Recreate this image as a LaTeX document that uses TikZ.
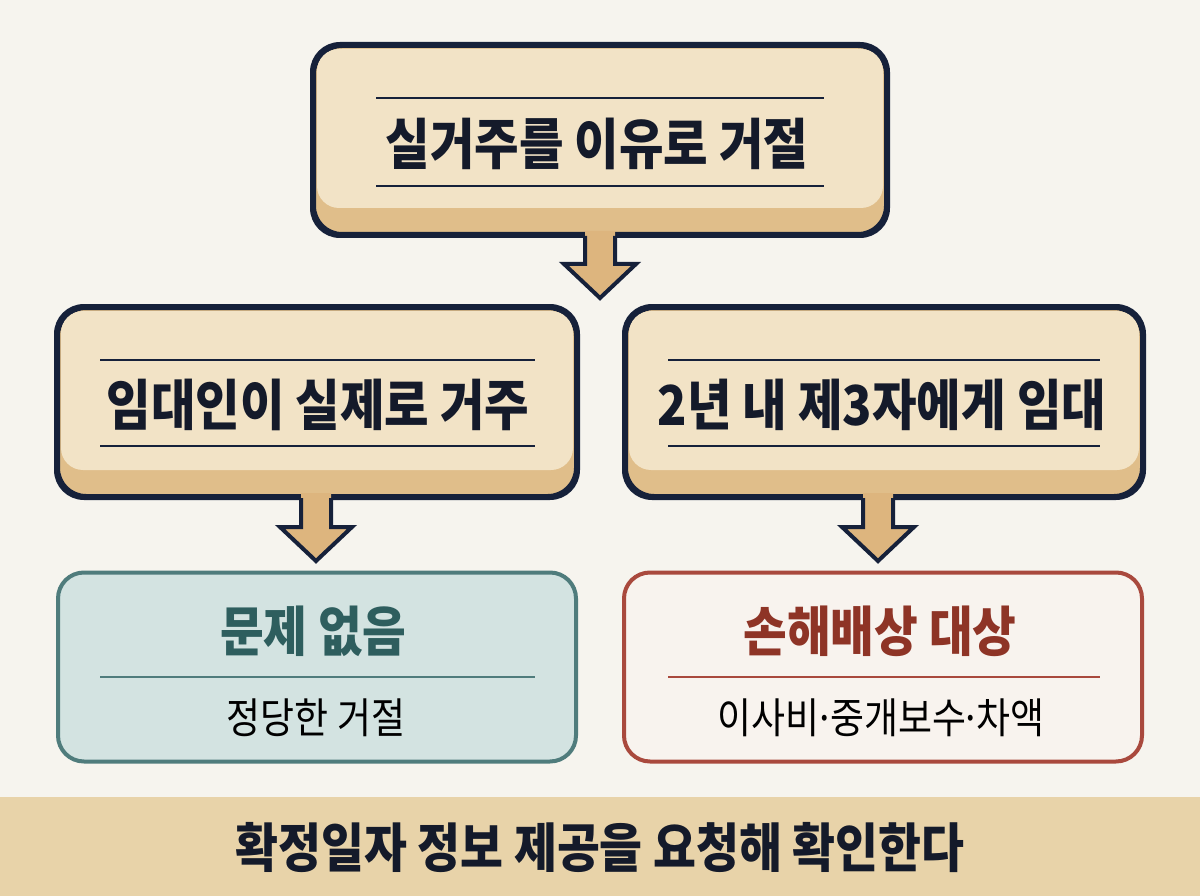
\documentclass[tikz,border=0pt]{standalone}
\usepackage{fontspec}
\usetikzlibrary{calc}
\newfontfamily\kr[FakeStretch=0.88]{Noto Sans CJK KR}
\definecolor{bg}{HTML}{F6F4EE}
\definecolor{navy}{HTML}{16213A}
\definecolor{tanlight}{HTML}{F2E3C6}
\definecolor{tandark}{HTML}{E0BE8A}
\definecolor{arrowfill}{HTML}{DDB57E}
\definecolor{tealline}{HTML}{4F7C7C}
\definecolor{tealfill}{HTML}{D3E3E1}
\definecolor{tealtext}{HTML}{2E5E5E}
\definecolor{redline}{HTML}{A9493D}
\definecolor{redfill}{HTML}{F8F3EE}
\definecolor{redtext}{HTML}{8E3426}
\definecolor{footer}{HTML}{E8D3A9}
\definecolor{ink}{HTML}{141A2A}
\tikzset{
  tanbox/.style={draw=navy, line width=4pt, fill=tandark, rounded corners=28pt, inner sep=0pt},
  tealbox/.style={draw=tealline, line width=4pt, fill=tealfill, rounded corners=26pt, inner sep=0pt, minimum width=518pt, minimum height=189pt},
  redbox/.style={draw=redline, line width=4pt, fill=redfill, rounded corners=26pt, inner sep=0pt, minimum width=518pt, minimum height=189pt},
  bigtitle/.style={font=\kr\bfseries\fontsize{55}{64}\selectfont, text=ink, inner sep=0pt},
  restitle/.style={font=\kr\bfseries\fontsize{54}{62}\selectfont, inner sep=0pt},
  subtitle/.style={font=\kr\fontsize{42}{50}\selectfont, text=black, inner sep=0pt},
  footertext/.style={font=\kr\bfseries\fontsize{53}{62}\selectfont, text=ink, inner sep=0pt},
  rule/.style={line width=2.2pt},
  arrowbody/.style={fill=arrowfill},
  arrowedge/.style={draw=navy, line width=4pt, line join=miter},
}
\newcommand\tanlayer[1]{%
  \fill[tanlight, rounded corners=22pt] ([xshift=5pt,yshift=-5pt]#1.north west) rectangle ([xshift=-5pt,yshift=28pt]#1.south east);
  \draw[navy, line width=4pt, rounded corners=28pt] (#1.north west) rectangle (#1.south east);
}
\newcommand\blockarrow[3]{% #1 start point, #2 stem length, #3 name of tip
  \fill[arrowbody] ($(#1)+(-15,-5)$) -- ($(#1)+(-15,#2)$) -- ($(#1)+(-36,#2)$) -- ($(#1)+(0,#2+34)$) coordinate (#3) -- ($(#1)+(36,#2)$) -- ($(#1)+(15,#2)$) -- ($(#1)+(15,-5)$) -- cycle;
  \draw[arrowedge] ($(#1)+(-15,0)$) -- ($(#1)+(-15,#2)$) -- ($(#1)+(-36,#2)$) -- ($(#1)+(0,#2+34)$) -- ($(#1)+(36,#2)$) -- ($(#1)+(15,#2)$) -- ($(#1)+(15,0)$);
}
\newcommand\mdot{\kern-0.12em·\kern-0.12em}
\begin{document}
\begin{tikzpicture}[x=1pt,y=-1pt]
\fill[bg] (0,0) rectangle (1200,896);
\useasboundingbox (0,0) rectangle (1200,896);

% top box
\node[tanbox, minimum width=572pt, minimum height=188pt] (top) at (600,140) {};
\tanlayer{top}
\draw[navy, rule] (376,98) -- (824,98);
\draw[navy, rule] (376,186) -- (824,186);
\node[bigtitle] (toptext) at (597,144) {실거주를 이유로 거절};

% mid boxes
\node[tanbox, minimum width=518pt, minimum height=188pt] (midl) at (317,402) {};
\tanlayer{midl}
\draw[navy, rule] (100,360) -- (535,360);
\draw[navy, rule] (100,446) -- (535,446);
\node[bigtitle] (midltext) at (318,405) {임대인이 실제로 거주};

\node[tanbox, minimum width=516pt, minimum height=188pt] (midr) at (884,402) {};
\tanlayer{midr}
\draw[navy, rule] (668,360) -- (1100,360);
\draw[navy, rule] (668,446) -- (1100,446);
\node[bigtitle] (midrtext) at (882,405) {2년 내 제3자에게 임대};

% arrows
\blockarrow{top.south}{28}{tiptop}
\coordinate (al) at ($(midl.south)+(-1,0)$);
\blockarrow{al}{29}{tipl}
\coordinate (ar) at ($(midr.south)+(-6,0)$);
\blockarrow{ar}{29}{tipr}

% result boxes
\node[tealbox] (ok) at (317,667) {};
\node[restitle, text=tealtext] (oktitle) at (313,631) {문제 없음};
\draw[tealline, rule] (100,677) -- (535,677);
\node[subtitle] (oksub) at (316,718) {정당한 거절};

\node[redbox] (dmg) at (883,667) {};
\node[restitle, text=redtext] (dmgtitle) at (880,631) {손해배상 대상};
\draw[redline, rule] (668,677) -- (1100,677);
\node[subtitle] (dmgsub) at (881,718) {이사비\mdot 중개보수\mdot 차액};

% footer
\fill[footer] (0,797) rectangle (1200,896);
\node[footertext] (foot) at (600,848) {확정일자 정보 제공을 요청해 확인한다};
\end{tikzpicture}
\end{document}
